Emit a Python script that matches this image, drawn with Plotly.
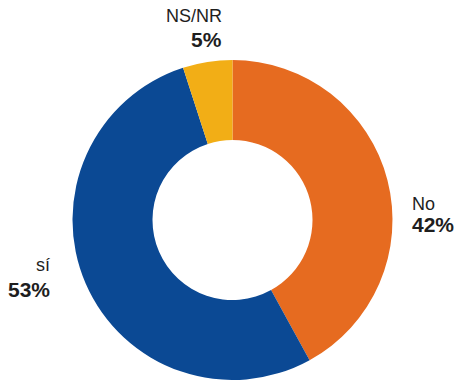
import plotly.graph_objects as go

# Survey answers (percent)
labels = ["No", "sí", "NS/NR"]
values = [42, 53, 5]
colors = ["#E66B20", "#0B4994", "#F2AE16"]

W, H = 456, 380


def px(x):
    return x / W


def py(y):
    return 1 - y / H


fig = go.Figure(
    go.Pie(
        labels=labels,
        values=values,
        hole=0.5,
        sort=False,
        direction="clockwise",
        rotation=0,
        marker=dict(colors=colors, line=dict(width=0)),
        textinfo="none",
        hoverinfo="label+percent",
        domain=dict(x=[px(72.5), px(392.5)], y=[py(380), py(60)]),
        showlegend=False,
    )
)

name_font = dict(family="Liberation Sans, Arial, sans-serif", size=18, color="#1e1e1e")
pct_font = dict(family="Liberation Sans, Arial, sans-serif", size=21, color="#1e1e1e")

# label placement: (anchor, x of text edge, y of name line, y of value line)
label_pos = {
    "NS/NR": ("right", 224, 16.5, 39.5),
    "No": ("left", 410, 203.5, 225),
    "sí": ("right", 52, 264.5, 289),
}

annotations = []
for lab, val in zip(labels, values):
    anchor, x, y1, y2 = label_pos[lab]
    annotations.append(dict(text=lab, x=px(x), y=py(y1), xref="paper", yref="paper",
                            xanchor=anchor, yanchor="middle", showarrow=False, font=name_font))
    annotations.append(dict(text=f"<b>{val}%</b>", x=px(x), y=py(y2), xref="paper", yref="paper",
                            xanchor=anchor, yanchor="middle", showarrow=False, font=pct_font))

fig.update_layout(
    width=W,
    height=H,
    margin=dict(l=0, r=0, t=0, b=0),
    paper_bgcolor="white",
    plot_bgcolor="white",
    annotations=annotations,
)

fig.write_html("out.html")
